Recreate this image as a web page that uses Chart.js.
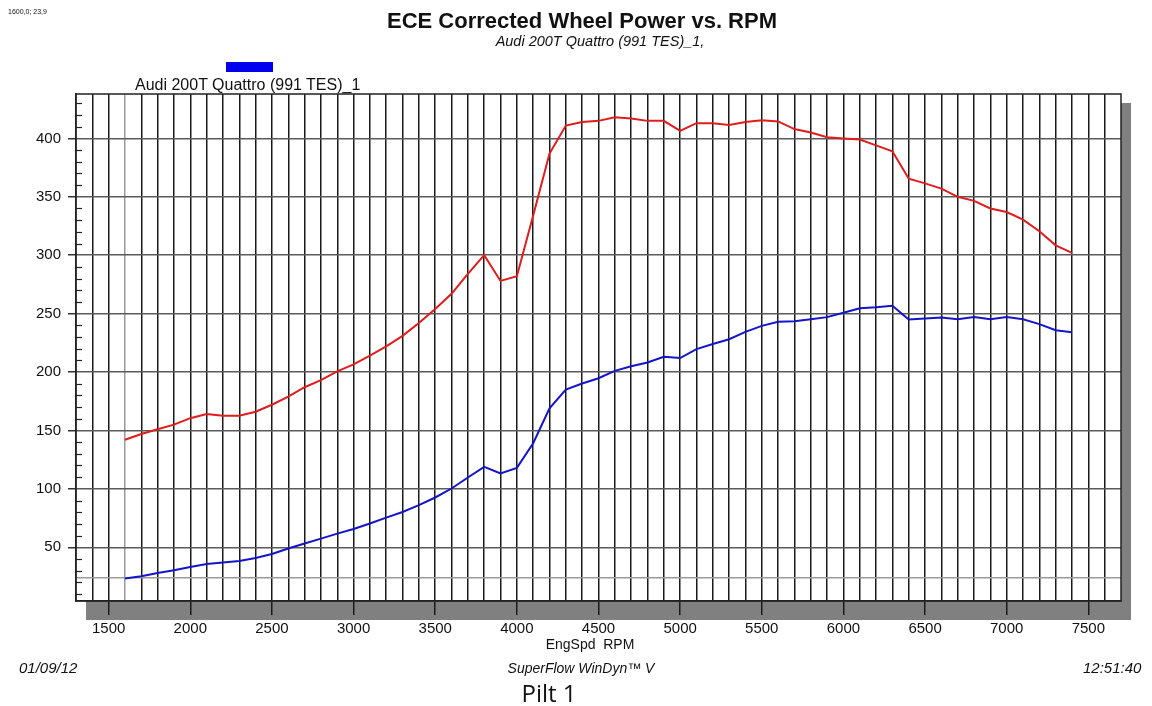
<!DOCTYPE html>
<html lang="en">
<head>
<meta charset="utf-8">
<title>ECE Corrected Wheel Power vs. RPM</title>
<script src="https://cdn.jsdelivr.net/npm/chart.js"></script>
<style>
  body { margin: 0; background: #fff; font-family: "Liberation Sans", Arial, sans-serif; color: #111; }
  #wrap { position: absolute; left: 0; top: 0; width: 1152px; height: 706px; }
  .t { position: absolute; white-space: nowrap; }
</style>
</head>
<body>
<div id="wrap"><canvas id="dyno"></canvas></div>

<div class="t" style="left:8px; top:8px; font-size:7px;">1600,0; 23,9</div>
<div class="t" style="left:582px; top:8px; transform:translateX(-50%); font-size:22px; font-weight:bold;">ECE Corrected Wheel Power vs. RPM</div>
<div class="t" style="left:600px; top:33px; transform:translateX(-50%); font-size:14.5px; font-style:italic;">Audi 200T Quattro (991 TES)_1,</div>
<div class="t" style="left:226px; top:62px; width:47px; height:10px; background:#0000ee;"></div>
<div class="t" style="left:135px; top:76px; font-size:16px;">Audi 200T Quattro (991 TES)_1</div>
<div class="t" style="left:590px; top:636px; transform:translateX(-50%); font-size:14px;">EngSpd&nbsp;&nbsp;RPM</div>
<div class="t" style="left:19px; top:659px; font-size:15px; font-style:italic;">01/09/12</div>
<div class="t" style="left:581px; top:660px; transform:translateX(-50%); font-size:14px; font-style:italic;">SuperFlow WinDyn™ V</div>
<div class="t" style="left:1083px; top:659px; font-size:15px; font-style:italic;">12:51:40</div>
<div class="t" style="left:549px; top:676px; transform:translateX(-50%); font-size:24px; font-family:'Open Sans', sans-serif;">Pilt 1</div>

<script>
// engine speed, rpm
const rpm = [1600, 1700, 1800, 1900, 2000, 2100, 2200, 2300, 2400, 2500,
  2600, 2700, 2800, 2900, 3000, 3100, 3200, 3300, 3400, 3500,
  3600, 3700, 3800, 3900, 4000, 4100, 4200, 4300, 4400, 4500,
  4600, 4700, 4800, 4900, 5000, 5100, 5200, 5300, 5400, 5500,
  5600, 5700, 5800, 5900, 6000, 6100, 6200, 6300, 6400, 6500,
  6600, 6700, 6800, 6900, 7000, 7100, 7200, 7300, 7400];

// red curve
const torque = [142, 147, 151, 155, 160.5, 164, 162.5, 162.5, 166, 172,
  179, 187, 193, 200.5, 206.5, 214, 222, 231, 242, 254,
  267, 284, 300, 278, 282, 334, 387, 411, 414, 415,
  418, 417, 415, 415, 406.5, 413, 413, 411.5, 414, 415.5,
  414.5, 408, 405, 401, 400, 399, 394, 389, 365.5, 361.5,
  357, 350, 346.5, 340, 337, 330.5, 320.5, 308.5, 302];

// blue curve
const power = [23.2, 25.2, 28, 30.3, 33.1, 35.7, 36.9, 38.3, 40.8, 44.3,
  48.9, 53.2, 57.4, 61.7, 65.7, 70.3, 75.4, 80.2, 86, 92.6,
  100.3, 109.7, 118.8, 113.1, 118, 139, 169, 185, 190.2, 194.7,
  201, 205, 208.2, 213, 212, 219.6, 224, 228.1, 234.4, 239.5,
  243, 243.5, 245.2, 247, 250.7, 254.5, 255.4, 256.7, 245, 245.8,
  246.7, 245.2, 247.2, 245.2, 247.2, 245.2, 241, 235.8, 234.1];

const xLabels = [1500, 2000, 2500, 3000, 3500, 4000, 4500, 5000, 5500, 6000, 6500, 7000, 7500];
const yLabels = [50, 100, 150, 200, 250, 300, 350, 400];

// cursor readout shown top left
const cursorRpm = 1600;
const cursorValue = 23.9;

const toXY = (arr) => arr.map((v, i) => ({ x: rpm[i], y: v }));

const dynoDecor = {
  id: 'dynoDecor',
  beforeDraw(chart) {
    const c = chart.ctx, a = chart.chartArea;
    c.save();
    c.fillStyle = '#808080';
    c.fillRect(a.left + 10, a.top + 9, a.right - a.left, a.bottom - a.top + 10);
    c.fillStyle = '#fff';
    c.fillRect(a.left, a.top, a.right - a.left, a.bottom - a.top);
    c.restore();
  },
  beforeDatasetsDraw(chart) {
    const c = chart.ctx, a = chart.chartArea, y = chart.scales.y;
    c.save();
    // minor ticks inside the frame
    c.strokeStyle = '#222';
    c.lineWidth = 1.2;
    for (let v = 10; v < y.max; v += 10) {
      if (v % 50 === 0) continue;
      const py = Math.round(y.getPixelForValue(v)) + 0.5;
      c.beginPath(); c.moveTo(a.left, py); c.lineTo(a.left + 6, py); c.stroke();
    }
    // cursor line
    c.strokeStyle = '#9a9a9a';
    c.lineWidth = 1.5;
    const cy = y.getPixelForValue(cursorValue);
    c.beginPath(); c.moveTo(a.left, cy); c.lineTo(a.right, cy); c.stroke();
    // frame
    c.strokeStyle = '#222';
    c.lineWidth = 1.5;
    c.strokeRect(a.left, a.top, a.right - a.left, a.bottom - a.top);
    c.restore();
  }
};

new Chart(document.getElementById('dyno'), {
  type: 'line',
  data: {
    datasets: [{
      label: 'Torque',
      data: toXY(torque),
      borderColor: '#e01c1c',
      borderWidth: 2,
      pointRadius: 0,
      tension: 0
    }, {
      label: 'Audi 200T Quattro (991 TES)_1',
      data: toXY(power),
      borderColor: '#1414c8',
      borderWidth: 2,
      pointRadius: 0,
      tension: 0
    }]
  },
  options: {
    responsive: true,
    maintainAspectRatio: false,
    animation: false,
    layout: { padding: { top: 94, right: 31, bottom: 65, left: 0 } },
    plugins: { legend: { display: false }, tooltip: { enabled: false } },
    scales: {
      x: {
        type: 'linear',
        min: 1300,
        max: 7700,
        afterBuildTicks: (s) => {
          const t = [];
          for (let v = 1400; v <= 7600; v += 100) t.push({ value: v });
          s.ticks = t;
        },
        afterFit: (s) => { s.height = 40; },
        ticks: {
          autoSkip: false,
          maxRotation: 0,
          padding: 5,
          color: '#111',
          font: { family: 'Liberation Sans', size: 15 },
          callback: (v) => xLabels.includes(v) ? String(v) : ''
        },
        grid: {
          color: (ctx) => ctx.tick && ctx.tick.value === cursorRpm ? '#9a9a9a' : '#1a1a1a',
          lineWidth: 1.5,
          tickLength: 14,
          tickColor: (ctx) => ctx.tick && xLabels.includes(ctx.tick.value) ? '#1a1a1a' : 'rgba(0,0,0,0)'
        },
        border: { color: '#222', width: 1.5 }
      },
      y: {
        min: 4,
        max: 438,
        afterBuildTicks: (s) => { s.ticks = yLabels.map((v) => ({ value: v })); },
        afterFit: (s) => { s.width = 76; },
        ticks: {
          padding: 7,
          color: '#111',
          font: { family: 'Liberation Sans', size: 15 }
        },
        grid: {
          color: '#5a5a5a',
          lineWidth: 1.5,
          tickLength: 8,
          tickColor: '#333'
        },
        border: { color: '#222', width: 1.5 }
      }
    }
  },
  plugins: [dynoDecor]
});
</script>
</body>
</html>
